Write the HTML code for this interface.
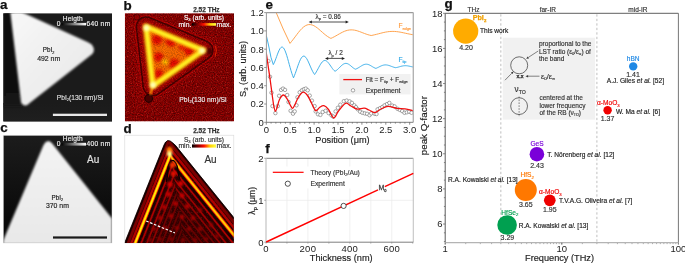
<!DOCTYPE html>
<html><head><meta charset="utf-8"><style>
html,body{margin:0;padding:0;background:#fff;width:685px;height:263px;overflow:hidden}
svg{display:block;will-change:transform;font-family:"Liberation Sans", sans-serif}
</style></head><body>
<svg width="685" height="263" viewBox="0 0 685 263">
<defs>
<filter id="bl05" x="-10%" y="-10%" width="120%" height="120%"><feGaussianBlur stdDeviation="0.5"/></filter>
<filter id="bl1" x="-10%" y="-10%" width="120%" height="120%"><feGaussianBlur stdDeviation="0.9"/></filter>
<filter id="bl15" x="-10%" y="-10%" width="120%" height="120%"><feGaussianBlur stdDeviation="1.25"/></filter>
<filter id="bl2" x="-10%" y="-10%" width="120%" height="120%"><feGaussianBlur stdDeviation="1.6"/></filter>
<filter id="bl6" x="-30%" y="-30%" width="160%" height="160%"><feGaussianBlur stdDeviation="7"/></filter>
<filter id="bl3" x="-20%" y="-20%" width="140%" height="140%"><feGaussianBlur stdDeviation="3"/></filter>
<filter id="noise" x="0" y="0" width="100%" height="100%">
 <feTurbulence type="fractalNoise" baseFrequency="0.9" numOctaves="1" seed="3" result="n"/>
 <feColorMatrix in="n" type="matrix" values="0 0 0 0 0  0 0 0 0 0  0 0 0 0 0  0 0 0 -1.2 0.75" result="a"/>
 <feComposite in="a" in2="SourceGraphic" operator="in"/>
</filter>
<filter id="noise2" x="0" y="0" width="100%" height="100%">
 <feTurbulence type="fractalNoise" baseFrequency="0.8" numOctaves="1" seed="11" result="n"/>
 <feColorMatrix in="n" type="matrix" values="0 0 0 0 0.95  0 0 0 0 0.08  0 0 0 0 0.05  0 0 0 1.4 -0.72" result="a"/>
 <feComposite in="a" in2="SourceGraphic" operator="in"/>
</filter>
<clipPath id="cpa"><rect x="3.2" y="13.2" width="108.8" height="108.3"/></clipPath>
<clipPath id="cpb"><rect x="124.8" y="13.2" width="109.2" height="108.3"/></clipPath>
<clipPath id="cpc"><rect x="3.2" y="135.2" width="108.8" height="107.8"/></clipPath>
<clipPath id="cpd"><rect x="124.8" y="135.2" width="109" height="107.8"/></clipPath>
<clipPath id="cpdt"><polygon points="122.2,249 164,145 165.5,142.3 167.6,140.6 170.2,141 172.8,143 175.6,145.5 240.3,225.5 240,250"/></clipPath>
<clipPath id="cpe"><rect x="266.4" y="12.6" width="146.9" height="109.6"/></clipPath>
<linearGradient id="gbw" x1="0" x2="1" y1="0" y2="0"><stop offset="0" stop-color="#000"/><stop offset="1" stop-color="#fff"/></linearGradient>
<linearGradient id="ghot" x1="0" x2="1" y1="0" y2="0"><stop offset="0" stop-color="#000"/><stop offset="0.3" stop-color="#a00000"/><stop offset="0.5" stop-color="#ff1000"/><stop offset="0.75" stop-color="#ffd000"/><stop offset="1" stop-color="#ffff40"/></linearGradient>
<linearGradient id="gaTri" x1="0" x2="1" y1="0" y2="1"><stop offset="0" stop-color="#f8f8f8"/><stop offset="1" stop-color="#e6e6e6"/></linearGradient>
<linearGradient id="gaBot" x1="0" x2="0" y1="0" y2="1"><stop offset="0" stop-color="#1b1b1b"/><stop offset="0.3" stop-color="#1c1c1c"/><stop offset="1" stop-color="#1f1f1f"/></linearGradient>
<linearGradient id="gaStrip" x1="0" x2="0" y1="0" y2="1"><stop offset="0" stop-color="#070707"/><stop offset="1" stop-color="#131313"/></linearGradient>
<linearGradient id="gcTri" x1="0" x2="0" y1="0" y2="1"><stop offset="0" stop-color="#f4f4f4"/><stop offset="1" stop-color="#e8e8e8"/></linearGradient>
<linearGradient id="gcBg" x1="0" x2="0" y1="0" y2="1"><stop offset="0" stop-color="#1c1c1c"/><stop offset="1" stop-color="#050505"/></linearGradient>
</defs>

<text x="0" y="9" font-size="13.4" text-anchor="start" fill="#111" font-weight="bold" stroke="#111" stroke-width="0.25" >a</text>
<text x="123.6" y="9.7" font-size="13.4" text-anchor="start" fill="#111" font-weight="bold" stroke="#111" stroke-width="0.25" >b</text>
<text x="0.2" y="132.3" font-size="13.4" text-anchor="start" fill="#111" font-weight="bold" stroke="#111" stroke-width="0.25" >c</text>
<text x="123.4" y="132.5" font-size="13.4" text-anchor="start" fill="#111" font-weight="bold" stroke="#111" stroke-width="0.25" >d</text>
<text x="265.6" y="9.1" font-size="13.4" text-anchor="start" fill="#111" font-weight="bold" stroke="#111" stroke-width="0.25" >e</text>
<text x="265.3" y="153" font-size="13.4" text-anchor="start" fill="#111" font-weight="bold" stroke="#111" stroke-width="0.25" >f</text>
<text x="444.4" y="7.8" font-size="13.4" text-anchor="start" fill="#111" font-weight="bold" stroke="#111" stroke-width="0.25" >g</text>
<g clip-path="url(#cpa)">
<rect x="3.2" y="13.2" width="108.8" height="108.3" fill="#1b1b1b"/>
<rect x="3.2" y="103" width="108.8" height="19" fill="url(#gaBot)"/>
<polygon points="3.2,11 13,11 23,106 3.2,106" fill="url(#gaStrip)" filter="url(#bl2)"/>
<polygon points="10.3,12 21.5,12 88,42.3 91.8,44.6 93.8,48.2 93.8,51.6 92.3,54 55,83.3 30,102.8 27,105.2 24,105.4 21.2,103 10.3,12" fill="url(#gaTri)" filter="url(#bl1)"/>
</g>
<text x="72.8" y="20.6" font-size="6.6" text-anchor="middle" fill="#f2f2f2" font-weight="normal" stroke="#f2f2f2" stroke-width="0.16" letter-spacing="0.15">Heigth</text>
<rect x="61.4" y="22.9" width="24.6" height="2.5" fill="url(#gbw)"/>
<text x="58.5" y="26" font-size="6.6" text-anchor="middle" fill="#eee" font-weight="normal" stroke="#eee" stroke-width="0.16" >0</text>
<text x="86.4" y="26" font-size="6.6" text-anchor="start" fill="#eee" font-weight="normal" stroke="#eee" stroke-width="0.16" letter-spacing="0.35">640 nm</text>
<text x="48.6" y="52.3" font-size="6.3" text-anchor="middle" fill="#222" font-weight="normal" stroke="#222" stroke-width="0.16" >PbI<tspan font-size="3.8" dy="1.3">2</tspan></text>
<text x="48.7" y="60.5" font-size="6.9" text-anchor="middle" fill="#222" font-weight="normal" stroke="#222" stroke-width="0.16" >492 nm</text>
<text x="56.8" y="100" font-size="6.65" text-anchor="start" fill="#ddd" font-weight="normal" stroke="#ddd" stroke-width="0.16" >PbI<tspan font-size="4" dy="1.3">2</tspan><tspan dy="-1.3">(130 nm)/Si</tspan></text>
<rect x="52.9" y="113.7" width="54.1" height="2.3" fill="#e8e8e8"/>
<g clip-path="url(#cpc)">
<rect x="3.2" y="135.2" width="108.8" height="107.8" fill="url(#gcBg)"/>
<polygon points="3.2,240.5 43.3,145.5 45.6,142 49,141.1 51.8,143 112,218.5 112,244 3.2,244" fill="url(#gcTri)" filter="url(#bl15)"/>
</g>
<rect x="3.2" y="135.2" width="108.8" height="107.8" fill="none" stroke="#ddd" stroke-width="0.5"/>
<text x="72.8" y="140.8" font-size="6.6" text-anchor="middle" fill="#f2f2f2" font-weight="normal" stroke="#f2f2f2" stroke-width="0.16" letter-spacing="0.15">Heigth</text>
<rect x="61.4" y="142.8" width="24.6" height="2.8" fill="url(#gbw)"/>
<text x="58.5" y="146.2" font-size="6.6" text-anchor="middle" fill="#eee" font-weight="normal" stroke="#eee" stroke-width="0.16" >0</text>
<text x="86.4" y="146.2" font-size="6.6" text-anchor="start" fill="#eee" font-weight="normal" stroke="#eee" stroke-width="0.16" letter-spacing="0.35">400 nm</text>
<text x="87" y="163.2" font-size="10" text-anchor="start" fill="#e0e0e0" font-weight="normal" stroke="#e0e0e0" stroke-width="0.16" >Au</text>
<text x="57.4" y="200" font-size="6.3" text-anchor="middle" fill="#222" font-weight="normal" stroke="#222" stroke-width="0.16" >PbI<tspan font-size="3.8" dy="1.3">2</tspan></text>
<text x="57.4" y="208.2" font-size="6.9" text-anchor="middle" fill="#222" font-weight="normal" stroke="#222" stroke-width="0.16" >370 nm</text>
<rect x="53" y="236.4" width="54" height="2.2" fill="#1a1a1a"/>
<g clip-path="url(#cpb)">
<rect x="124.8" y="13.2" width="109.2" height="108.3" fill="#8e0000"/>
<polygon points="128,10 228,45 140,112" fill="#b80000" opacity="0.55" filter="url(#bl6)"/>
<rect x="124.8" y="13.2" width="109.2" height="108.3" fill="#fff" filter="url(#noise2)"/>
<rect x="124.8" y="13.2" width="109.2" height="108.3" fill="#3a0000" filter="url(#noise)"/>
<mask id="rm11210"><polygon points="146,26.6 203.2,50.2 152.8,86" fill="#fff" stroke="#fff" stroke-width="23.4" stroke-linejoin="round"/><polygon points="146,26.6 203.2,50.2 152.8,86" fill="#000" stroke="#000" stroke-width="21.4" stroke-linejoin="round"/></mask>
<g filter="url(#bl05)"><rect x="120" y="10" width="120" height="115" fill="#d00000" opacity="0.5" mask="url(#rm11210)"/></g>
<mask id="rm9614"><polygon points="146,26.6 203.2,50.2 152.8,86" fill="#fff" stroke="#fff" stroke-width="20.6" stroke-linejoin="round"/><polygon points="146,26.6 203.2,50.2 152.8,86" fill="#000" stroke="#000" stroke-width="17.8" stroke-linejoin="round"/></mask>
<g filter="url(#bl05)"><rect x="120" y="10" width="120" height="115" fill="#300000" opacity="0.8" mask="url(#rm9614)"/></g>
<mask id="rm5226"><polygon points="146,26.6 203.2,50.2 152.8,86" fill="#fff" stroke="#fff" stroke-width="13" stroke-linejoin="round"/><polygon points="146,26.6 203.2,50.2 152.8,86" fill="#000" stroke="#000" stroke-width="7.8" stroke-linejoin="round"/></mask>
<g filter="url(#bl1)"><rect x="120" y="10" width="120" height="115" fill="#b00000" opacity="0.55" mask="url(#rm5226)"/></g>
<circle cx="209" cy="51" r="3.5" fill="#400000" filter="url(#bl1)" opacity="0.8"/>
<circle cx="136.8" cy="17" r="3" fill="#900000" stroke="#400000" stroke-width="1" opacity="0.7"/>
<circle cx="148.7" cy="98.5" r="3.8" fill="#4a0000" stroke="#250000" stroke-width="1.2"/>
<path d="M152.5,88 L150,94.5" stroke="#ff9000" stroke-width="2.5" filter="url(#bl1)"/>
<path d="M215.5,46 Q217.5,51 215,56.5" fill="none" stroke="#e02000" stroke-width="1" filter="url(#bl05)"/>
<polygon points="146,26.6 203.2,50.2 152.8,86" fill="#fa6a00"/>
<g filter="url(#bl2)"><circle cx="157.1" cy="39.5" r="5.2" fill="#e81000"/><circle cx="170.8" cy="41.5" r="5.2" fill="#e81000"/><circle cx="189" cy="51" r="4.8" fill="#e81000"/><circle cx="158.6" cy="57" r="4.8" fill="#e81000"/><circle cx="158.6" cy="74" r="4.8" fill="#e81000"/><circle cx="174.4" cy="64" r="5.4" fill="#e81000"/><circle cx="182" cy="47" r="3.5" fill="#f02000"/><circle cx="166" cy="50" r="3" fill="#ff7000"/><circle cx="180" cy="55" r="2.5" fill="#ff6000"/><circle cx="165" cy="62" r="2.5" fill="#ffd000"/></g>
<polygon points="146,26.6 203.2,50.2 152.8,86" fill="#802000" filter="url(#noise)" opacity="0.5"/>
<polygon points="146,26.6 203.2,50.2 152.8,86" fill="none" stroke="#ffa000" stroke-width="7.5" stroke-linejoin="round" filter="url(#bl1)" opacity="0.6"/>
<polygon points="146,26.6 203.2,50.2 152.8,86" fill="none" stroke="#fff020" stroke-width="4.4" stroke-linejoin="round" filter="url(#bl1)"/>
<g filter="url(#bl2)"><circle cx="146.5" cy="28" r="3" fill="#ffffc0"/><circle cx="202" cy="50.8" r="3" fill="#ffffc0"/><circle cx="153" cy="85" r="3" fill="#ffffc0"/></g>
</g>
<text x="206.4" y="11.8" font-size="6.5" text-anchor="middle" fill="#333" font-weight="bold" stroke="#333" stroke-width="0.25" >2.52 THz</text>
<text x="204" y="19.9" font-size="6.6" text-anchor="middle" fill="#fff" font-weight="normal" stroke="#fff" stroke-width="0.16" >S<tspan font-size="4.2" dy="1.3">3</tspan><tspan dy="-1.3"> (arb. units)</tspan></text>
<text x="191.3" y="26.6" font-size="6.8" text-anchor="end" fill="#f4f4f4" font-weight="normal" stroke="#f4f4f4" stroke-width="0.16" >min.</text>
<rect x="191.9" y="23.1" width="24.1" height="2.6" fill="url(#ghot)"/>
<text x="216.4" y="26.6" font-size="6.9" text-anchor="start" fill="#f4f4f4" font-weight="normal" stroke="#f4f4f4" stroke-width="0.16" >max.</text>
<text x="179.3" y="101.9" font-size="6.75" text-anchor="start" fill="#e8e8e8" font-weight="normal" stroke="#e8e8e8" stroke-width="0.16" >PbI<tspan font-size="4" dy="1.3">2</tspan><tspan dy="-1.3">(130 nm)/Si</tspan></text>
<rect x="124.8" y="135.2" width="109" height="107.8" fill="#fff" stroke="#d8d8d8" stroke-width="0.6"/>
<g clip-path="url(#cpd)">
<polygon points="122.2,249 164,145 165.5,142.3 167.6,140.6 170.2,141 172.8,143 175.6,145.5 240.3,225.5 240,250" fill="#380000"/>
<polygon points="122.2,249 164,145 165.5,142.3 167.6,140.6 170.2,141 172.8,143 175.6,145.5 240.3,225.5 240,250" fill="#000" filter="url(#noise)" opacity="0.6"/>
<polygon points="122.2,249 164,145 165.5,142.3 167.6,140.6 170.2,141 172.8,143 175.6,145.5 240.3,225.5 240,250" fill="#fff" filter="url(#noise2)" opacity="0.45"/>
<clipPath id="cpdl"><polygon points="167.8,135.4 186.61,260 100,260 100,120 167.8,120"/></clipPath>
<clipPath id="cpdr"><polygon points="167.8,135.4 186.61,260 260,260 260,120 167.8,120"/></clipPath>
<g clip-path="url(#cpdt)"><g filter="url(#bl05)"><g clip-path="url(#cpdl)"><line x1="174.49" y1="120.22" x2="118.68" y2="260.22" stroke="#150000" stroke-width="1.2" opacity="1"/><line x1="176.72" y1="121.11" x2="120.91" y2="261.11" stroke="#7a0000" stroke-width="2.6" opacity="1"/><line x1="179.5" y1="122.22" x2="123.7" y2="262.22" stroke="#b00000" stroke-width="2.2" opacity="1"/><line x1="182.85" y1="123.55" x2="127.04" y2="263.55" stroke="#ff4000" stroke-width="3.6" opacity="1"/><line x1="182.85" y1="123.55" x2="127.04" y2="263.55" stroke="#fff000" stroke-width="1.9" opacity="1"/><line x1="185.82" y1="124.74" x2="130.02" y2="264.74" stroke="#1a0000" stroke-width="1.6" opacity="1"/><line x1="188.05" y1="125.63" x2="132.25" y2="265.63" stroke="#b00000" stroke-width="1.6" opacity="1"/><line x1="190.28" y1="126.52" x2="134.48" y2="266.52" stroke="#250000" stroke-width="1.2" opacity="1"/><line x1="192.97" y1="127.59" x2="137.17" y2="267.59" stroke="#a00000" stroke-width="1.6" opacity="1"/><line x1="197.25" y1="129.29" x2="141.44" y2="269.29" stroke="#900000" stroke-width="1.6" opacity="1"/><line x1="201.52" y1="131" x2="145.72" y2="271" stroke="#700000" stroke-width="1.6" opacity="1"/><line x1="205.79" y1="132.7" x2="149.99" y2="272.7" stroke="#700000" stroke-width="1.6" opacity="1"/><line x1="210.07" y1="134.4" x2="154.26" y2="274.4" stroke="#680000" stroke-width="1.6" opacity="1"/><line x1="214.34" y1="136.11" x2="158.53" y2="276.11" stroke="#680000" stroke-width="1.6" opacity="1"/><line x1="218.61" y1="137.81" x2="162.81" y2="277.81" stroke="#600000" stroke-width="1.6" opacity="1"/><line x1="222.88" y1="139.51" x2="167.08" y2="279.51" stroke="#600000" stroke-width="1.6" opacity="1"/><line x1="227.16" y1="141.22" x2="171.35" y2="281.22" stroke="#600000" stroke-width="1.6" opacity="1"/></g><g clip-path="url(#cpdr)"><line x1="154.83" y1="120.38" x2="267.95" y2="260.38" stroke="#150000" stroke-width="1.2" opacity="1"/><line x1="152.81" y1="122.01" x2="265.93" y2="262.01" stroke="#7a0000" stroke-width="2.8" opacity="1"/><line x1="150.17" y1="124.15" x2="263.29" y2="264.15" stroke="#b00000" stroke-width="2.4" opacity="1"/><line x1="146.59" y1="127.04" x2="259.71" y2="267.04" stroke="#ff3000" stroke-width="3.6" opacity="1"/><line x1="146.59" y1="127.04" x2="259.71" y2="267.04" stroke="#ffd000" stroke-width="1.9" opacity="1"/><line x1="143.94" y1="129.18" x2="257.06" y2="269.18" stroke="#1a0000" stroke-width="1.6" opacity="1"/><line x1="142.08" y1="130.68" x2="255.2" y2="270.68" stroke="#b00000" stroke-width="1.6" opacity="1"/><line x1="140.13" y1="132.26" x2="253.25" y2="272.26" stroke="#250000" stroke-width="1.2" opacity="1"/><line x1="137.8" y1="134.14" x2="250.92" y2="274.14" stroke="#a00000" stroke-width="1.6" opacity="1"/><line x1="134.22" y1="137.03" x2="247.34" y2="277.03" stroke="#900000" stroke-width="1.6" opacity="1"/><line x1="130.64" y1="139.92" x2="243.76" y2="279.92" stroke="#700000" stroke-width="1.6" opacity="1"/><line x1="127.06" y1="142.81" x2="240.18" y2="282.81" stroke="#700000" stroke-width="1.6" opacity="1"/><line x1="123.49" y1="145.7" x2="236.61" y2="285.7" stroke="#680000" stroke-width="1.6" opacity="1"/><line x1="119.91" y1="148.6" x2="233.03" y2="288.6" stroke="#680000" stroke-width="1.6" opacity="1"/><line x1="116.33" y1="151.49" x2="229.45" y2="291.49" stroke="#600000" stroke-width="1.6" opacity="1"/><line x1="112.75" y1="154.38" x2="225.87" y2="294.38" stroke="#600000" stroke-width="1.6" opacity="1"/><line x1="109.18" y1="157.27" x2="222.3" y2="297.27" stroke="#600000" stroke-width="1.6" opacity="1"/></g></g><path d="M166.5,182 L168.5,166 Q172.5,155 177,166 L180,182" fill="none" stroke="#100000" stroke-width="1.6" filter="url(#bl05)"/><g filter="url(#bl1)"><circle cx="172.6" cy="165" r="3.0" fill="#f03000"/><circle cx="173.4" cy="173.7" r="2.9" fill="#e01000"/><circle cx="170" cy="184.4" r="2.8" fill="#d00000"/><circle cx="180.6" cy="183.6" r="2.8" fill="#d00000"/><circle cx="168.6" cy="194.2" r="2.7" fill="#c00000"/><circle cx="182" cy="195.6" r="2.7" fill="#c00000"/><circle cx="175.3" cy="203.5" r="2.5" fill="#b00000"/><circle cx="187.3" cy="206.2" r="2.5" fill="#b00000"/><circle cx="164" cy="207" r="2.5" fill="#b00000"/><circle cx="160" cy="218" r="2.4" fill="#a00000"/><circle cx="171" cy="216" r="2.4" fill="#a00000"/><circle cx="182" cy="217" r="2.4" fill="#a00000"/><circle cx="193" cy="218" r="2.4" fill="#a00000"/><circle cx="200" cy="210" r="2.3" fill="#a00000"/><circle cx="154" cy="229" r="2.3" fill="#900000"/><circle cx="165" cy="228" r="2.3" fill="#900000"/><circle cx="177" cy="228" r="2.3" fill="#900000"/><circle cx="189" cy="229" r="2.3" fill="#900000"/><circle cx="200" cy="229" r="2.3" fill="#900000"/><circle cx="211" cy="225" r="2.3" fill="#900000"/><circle cx="150" cy="240" r="2.3" fill="#800000"/><circle cx="160" cy="239" r="2.3" fill="#800000"/><circle cx="171" cy="239" r="2.3" fill="#800000"/><circle cx="183" cy="240" r="2.3" fill="#800000"/><circle cx="195" cy="240" r="2.3" fill="#800000"/><circle cx="206" cy="239" r="2.3" fill="#800000"/><circle cx="217" cy="236" r="2.3" fill="#800000"/><circle cx="169.5" cy="150" r="3" fill="#ff8000"/><circle cx="169.5" cy="154" r="2.6" fill="#ffff90"/></g></g>
<polygon points="122.2,249 164,145 165.5,142.3 167.6,140.6 170.2,141 172.8,143 175.6,145.5 240.3,225.5 240,250" fill="none" stroke="#100000" stroke-width="0.8"/>
</g>
<line x1="146.2" y1="221" x2="174.8" y2="232.9" stroke="#fff" stroke-width="1.2" stroke-dasharray="2.6,1.6"/>
<text x="206.4" y="133.2" font-size="6.5" text-anchor="middle" fill="#333" font-weight="bold" stroke="#333" stroke-width="0.25" >2.52 THz</text>
<text x="204" y="141.6" font-size="6.6" text-anchor="middle" fill="#333" font-weight="normal" stroke="#333" stroke-width="0.16" >S<tspan font-size="4.2" dy="1.3">3</tspan><tspan dy="-1.3"> (arb. units)</tspan></text>
<text x="191.3" y="147.9" font-size="6.8" text-anchor="end" fill="#333" font-weight="normal" stroke="#333" stroke-width="0.16" >min.</text>
<rect x="192" y="144.4" width="24" height="3.2" fill="url(#ghot)"/>
<text x="216.6" y="147.9" font-size="6.9" text-anchor="start" fill="#333" font-weight="normal" stroke="#333" stroke-width="0.16" >max.</text>
<text x="204.4" y="163.2" font-size="10" text-anchor="start" fill="#333" font-weight="normal" stroke="#333" stroke-width="0.16" >Au</text>
<rect x="339.4" y="74" width="71.2" height="20.4" fill="#f1f1f1"/>
<g clip-path="url(#cpe)" fill="none" stroke-linejoin="round">
<path d="M275.3,10 L276.2,12.6 L283.2,29 L290,43.4 L291.7,41.29 L293.41,39.12 L295.11,36.85 L296.82,34.57 L298.52,32.35 L300.23,30.29 L301.93,28.47 L303.63,26.94 L305.34,25.77 L307.04,24.98 L308.75,24.59 L310.45,24.6 L312.15,24.97 L313.86,25.69 L315.56,26.69 L317.27,27.91 L318.97,29.31 L320.67,30.8 L322.38,32.32 L324.08,33.8 L325.79,35.2 L327.49,36.45 L329.2,37.53 L330.9,38.4 L332.58,37.61 L334.26,36.76 L335.94,35.83 L337.62,34.86 L339.3,33.9 L340.97,32.97 L342.65,32.11 L344.33,31.35 L346.01,30.74 L347.69,30.27 L349.37,29.98 L351.05,29.86 L352.73,29.92 L354.41,30.13 L356.09,30.49 L357.77,30.97 L359.45,31.55 L361.12,32.18 L362.8,32.83 L364.48,33.48 L366.16,34.1 L367.84,34.66 L369.52,35.13 L371.2,35.5 L373,35.15 L374.81,34.74 L376.61,34.3 L378.42,33.83 L380.22,33.36 L382.02,32.9 L383.83,32.47 L385.63,32.1 L387.44,31.79 L389.24,31.57 L391.05,31.44 L392.85,31.4 L394.65,31.45 L396.46,31.6 L398.26,31.83 L400.07,32.12 L401.87,32.46 L403.68,32.84 L405.48,33.24 L407.28,33.64 L409.09,34.01 L410.89,34.36 L412.7,34.66 L414.5,34.9" stroke="#ff9a3c" stroke-width="0.9"/>
<path d="M266.4,35.8 L268.5,45 L271,57.5 L273.3,64.6 L274.14,62.96 L274.98,61 L275.82,58.79 L276.67,56.47 L277.51,54.16 L278.35,52 L279.19,50.12 L280.03,48.62 L280.88,47.59 L281.72,47.09 L282.56,47.17 L283.4,47.83 L284.24,49.05 L285.08,50.8 L285.93,53 L286.77,55.58 L287.61,58.43 L288.45,61.46 L289.29,64.55 L290.13,67.6 L290.98,70.53 L291.82,73.25 L292.66,75.68 L293.5,77.8 L294.38,75.72 L295.26,73.44 L296.14,70.97 L297.02,68.4 L297.9,65.84 L298.77,63.41 L299.65,61.2 L300.53,59.31 L301.41,57.81 L302.29,56.75 L303.17,56.19 L304.05,56.11 L304.93,56.52 L305.81,57.38 L306.69,58.63 L307.57,60.21 L308.45,62.04 L309.33,64.02 L310.2,66.07 L311.08,68.09 L311.96,70.01 L312.84,71.75 L313.72,73.26 L314.6,74.5 L315.45,73.29 L316.3,71.92 L317.15,70.42 L318,68.84 L318.85,67.24 L319.7,65.68 L320.55,64.24 L321.4,62.97 L322.25,61.92 L323.1,61.14 L323.95,60.65 L324.8,60.47 L325.65,60.6 L326.5,61.03 L327.35,61.71 L328.2,62.62 L329.05,63.7 L329.9,64.89 L330.75,66.13 L331.6,67.37 L332.45,68.56 L333.3,69.63 L334.15,70.55 L335,71.3 L335.85,70.79 L336.7,70.16 L337.55,69.44 L338.4,68.64 L339.25,67.8 L340.1,66.94 L340.95,66.11 L341.8,65.33 L342.65,64.65 L343.5,64.09 L344.35,63.68 L345.2,63.44 L346.05,63.38 L346.9,63.5 L347.75,63.78 L348.6,64.22 L349.45,64.79 L350.3,65.44 L351.15,66.15 L352,66.87 L352.85,67.57 L353.7,68.21 L354.55,68.76 L355.4,69.2 L356.25,68.89 L357.11,68.5 L357.96,68.04 L358.82,67.53 L359.67,67 L360.52,66.45 L361.38,65.91 L362.23,65.42 L363.09,64.98 L363.94,64.62 L364.8,64.37 L365.65,64.22 L366.5,64.2 L367.36,64.3 L368.21,64.51 L369.07,64.83 L369.92,65.23 L370.77,65.7 L371.63,66.2 L372.48,66.72 L373.34,67.22 L374.19,67.68 L375.05,68.08 L375.9,68.4 L376.72,68.05 L377.55,67.67 L378.38,67.27 L379.2,66.85 L380.02,66.44 L380.85,66.05 L381.67,65.7 L382.5,65.4 L383.32,65.16 L384.15,65 L384.97,64.91 L385.8,64.9 L386.62,64.96 L387.45,65.1 L388.27,65.29 L389.1,65.53 L389.93,65.81 L390.75,66.12 L391.57,66.43 L392.4,66.73 L393.22,67.02 L394.05,67.29 L394.88,67.52 L395.7,67.7 L396.48,67.54 L397.27,67.36 L398.05,67.15 L398.83,66.94 L399.62,66.71 L400.4,66.49 L401.18,66.28 L401.97,66.1 L402.75,65.94 L403.53,65.82 L404.32,65.74 L405.1,65.7 L405.88,65.7 L406.67,65.75 L407.45,65.84 L408.23,65.97 L409.02,66.12 L409.8,66.28 L410.58,66.46 L411.37,66.64 L412.15,66.81 L412.93,66.96 L413.72,67.09 L414.5,67.2" stroke="#2ea8e6" stroke-width="0.9"/>
<circle cx="268.4" cy="61.1" r="1.75" fill="#fff" stroke="#555" stroke-width="0.5"/><circle cx="270" cy="76.8" r="1.75" fill="#fff" stroke="#555" stroke-width="0.5"/><circle cx="271.5" cy="92.7" r="1.75" fill="#fff" stroke="#555" stroke-width="0.5"/><circle cx="272.5" cy="106.1" r="1.75" fill="#fff" stroke="#555" stroke-width="0.5"/><circle cx="275.4" cy="113.1" r="1.75" fill="#fff" stroke="#555" stroke-width="0.5"/><circle cx="277.8" cy="106.1" r="1.75" fill="#fff" stroke="#555" stroke-width="0.5"/><circle cx="279.1" cy="95.8" r="1.75" fill="#fff" stroke="#555" stroke-width="0.5"/><circle cx="281.1" cy="89.9" r="1.75" fill="#fff" stroke="#555" stroke-width="0.5"/><circle cx="283" cy="88.6" r="1.75" fill="#fff" stroke="#555" stroke-width="0.5"/><circle cx="285" cy="89.9" r="1.75" fill="#fff" stroke="#555" stroke-width="0.5"/><circle cx="287.2" cy="95" r="1.75" fill="#fff" stroke="#555" stroke-width="0.5"/><circle cx="288.5" cy="102" r="1.75" fill="#fff" stroke="#555" stroke-width="0.5"/><circle cx="290.6" cy="110.8" r="1.75" fill="#fff" stroke="#555" stroke-width="0.5"/><circle cx="293" cy="113.7" r="1.75" fill="#fff" stroke="#555" stroke-width="0.5"/><circle cx="294.7" cy="111.4" r="1.75" fill="#fff" stroke="#555" stroke-width="0.5"/><circle cx="296.5" cy="105.3" r="1.75" fill="#fff" stroke="#555" stroke-width="0.5"/><circle cx="297.5" cy="97.3" r="1.75" fill="#fff" stroke="#555" stroke-width="0.5"/><circle cx="299.7" cy="92.3" r="1.75" fill="#fff" stroke="#555" stroke-width="0.5"/><circle cx="301.9" cy="90.3" r="1.75" fill="#fff" stroke="#555" stroke-width="0.5"/><circle cx="303.9" cy="89.2" r="1.75" fill="#fff" stroke="#555" stroke-width="0.5"/><circle cx="305.8" cy="88.6" r="1.75" fill="#fff" stroke="#555" stroke-width="0.5"/><circle cx="307.7" cy="90.3" r="1.75" fill="#fff" stroke="#555" stroke-width="0.5"/><circle cx="309.7" cy="95.6" r="1.75" fill="#fff" stroke="#555" stroke-width="0.5"/><circle cx="311.9" cy="100.6" r="1.75" fill="#fff" stroke="#555" stroke-width="0.5"/><circle cx="314.6" cy="106.1" r="1.75" fill="#fff" stroke="#555" stroke-width="0.5"/><circle cx="315.7" cy="111.4" r="1.75" fill="#fff" stroke="#555" stroke-width="0.5"/><circle cx="318" cy="114.3" r="1.75" fill="#fff" stroke="#555" stroke-width="0.5"/><circle cx="320.4" cy="114.9" r="1.75" fill="#fff" stroke="#555" stroke-width="0.5"/><circle cx="322.7" cy="112" r="1.75" fill="#fff" stroke="#555" stroke-width="0.5"/><circle cx="325.6" cy="110.8" r="1.75" fill="#fff" stroke="#555" stroke-width="0.5"/><circle cx="328.6" cy="113.1" r="1.75" fill="#fff" stroke="#555" stroke-width="0.5"/><circle cx="331.5" cy="115.4" r="1.75" fill="#fff" stroke="#555" stroke-width="0.5"/><circle cx="333.2" cy="116.6" r="1.75" fill="#fff" stroke="#555" stroke-width="0.5"/><circle cx="335.6" cy="111.4" r="1.75" fill="#fff" stroke="#555" stroke-width="0.5"/><circle cx="337.9" cy="107.8" r="1.75" fill="#fff" stroke="#555" stroke-width="0.5"/><circle cx="340.3" cy="104.7" r="1.75" fill="#fff" stroke="#555" stroke-width="0.5"/><circle cx="343.8" cy="101.2" r="1.75" fill="#fff" stroke="#555" stroke-width="0.5"/><circle cx="346.7" cy="100.6" r="1.75" fill="#fff" stroke="#555" stroke-width="0.5"/><circle cx="349.6" cy="101.4" r="1.75" fill="#fff" stroke="#555" stroke-width="0.5"/><circle cx="351.9" cy="102.9" r="1.75" fill="#fff" stroke="#555" stroke-width="0.5"/><circle cx="354.3" cy="105.3" r="1.75" fill="#fff" stroke="#555" stroke-width="0.5"/><circle cx="356" cy="107.2" r="1.75" fill="#fff" stroke="#555" stroke-width="0.5"/><circle cx="357.8" cy="109.3" r="1.75" fill="#fff" stroke="#555" stroke-width="0.5"/><circle cx="360.1" cy="111.7" r="1.75" fill="#fff" stroke="#555" stroke-width="0.5"/><circle cx="362.4" cy="112.8" r="1.75" fill="#fff" stroke="#555" stroke-width="0.5"/><circle cx="364.8" cy="113.4" r="1.75" fill="#fff" stroke="#555" stroke-width="0.5"/><circle cx="367.1" cy="113.8" r="1.75" fill="#fff" stroke="#555" stroke-width="0.5"/><circle cx="369.5" cy="115.2" r="1.75" fill="#fff" stroke="#555" stroke-width="0.5"/><circle cx="371.2" cy="113.4" r="1.75" fill="#fff" stroke="#555" stroke-width="0.5"/><circle cx="374.7" cy="113.8" r="1.75" fill="#fff" stroke="#555" stroke-width="0.5"/><circle cx="376.5" cy="114" r="1.75" fill="#fff" stroke="#555" stroke-width="0.5"/><circle cx="377.6" cy="109.3" r="1.75" fill="#fff" stroke="#555" stroke-width="0.5"/><circle cx="380" cy="108.2" r="1.75" fill="#fff" stroke="#555" stroke-width="0.5"/><circle cx="382.3" cy="107" r="1.75" fill="#fff" stroke="#555" stroke-width="0.5"/><circle cx="384.6" cy="105.3" r="1.75" fill="#fff" stroke="#555" stroke-width="0.5"/><circle cx="387" cy="104.1" r="1.75" fill="#fff" stroke="#555" stroke-width="0.5"/><circle cx="389.3" cy="102.9" r="1.75" fill="#fff" stroke="#555" stroke-width="0.5"/><circle cx="392.2" cy="105.6" r="1.75" fill="#fff" stroke="#555" stroke-width="0.5"/><circle cx="394.6" cy="106.4" r="1.75" fill="#fff" stroke="#555" stroke-width="0.5"/><circle cx="397.5" cy="108.8" r="1.75" fill="#fff" stroke="#555" stroke-width="0.5"/><circle cx="399.8" cy="109.9" r="1.75" fill="#fff" stroke="#555" stroke-width="0.5"/><circle cx="402.2" cy="111.1" r="1.75" fill="#fff" stroke="#555" stroke-width="0.5"/><circle cx="404.5" cy="112.8" r="1.75" fill="#fff" stroke="#555" stroke-width="0.5"/><circle cx="406.8" cy="112.3" r="1.75" fill="#fff" stroke="#555" stroke-width="0.5"/><circle cx="409.2" cy="111.7" r="1.75" fill="#fff" stroke="#555" stroke-width="0.5"/><circle cx="411.5" cy="112.8" r="1.75" fill="#fff" stroke="#555" stroke-width="0.5"/>
<path d="M266.2,52.5 C266.55,54.92 267.63,62.42 268.3,67 C268.97,71.58 269.55,75.33 270.2,80 C270.85,84.67 271.6,90.67 272.2,95 C272.8,99.33 273.27,103.27 273.8,106 C274.33,108.73 274.83,111.23 275.4,111.4 C275.97,111.57 276.52,108.98 277.2,107 C277.88,105.02 278.45,101.5 279.5,99.5 C280.55,97.5 282.17,95 283.5,95 C284.83,95 286.33,97.75 287.5,99.5 C288.67,101.25 289.65,104.02 290.5,105.5 C291.35,106.98 291.85,108.57 292.6,108.4 C293.35,108.23 294.02,106.4 295,104.5 C295.98,102.6 297.13,99.07 298.5,97 C299.87,94.93 301.7,92.35 303.2,92.1 C304.7,91.85 306.12,93.68 307.5,95.5 C308.88,97.32 310.13,100.45 311.5,103 C312.87,105.55 314.37,110.05 315.7,110.8 C317.03,111.55 318.13,108.35 319.5,107.5 C320.87,106.65 322.4,105.37 323.9,105.7 C325.4,106.03 326.85,107.45 328.5,109.5 C330.15,111.55 332.13,117.75 333.8,118 C335.47,118.25 336.55,113.45 338.5,111 C340.45,108.55 343.42,104.13 345.5,103.3 C347.58,102.47 349.05,105.03 351,106 C352.95,106.97 355,108.73 357.2,109.1 C359.4,109.47 362.23,108.05 364.2,108.2 C366.17,108.35 367.25,109.27 369,110 C370.75,110.73 372.7,112.77 374.7,112.6 C376.7,112.43 378.77,110.03 381,109 C383.23,107.97 385.45,106.5 388.1,106.4 C390.75,106.3 394.08,108 396.9,108.4 C399.72,108.8 402.23,108.42 405,108.8 C407.77,109.18 412.08,110.38 413.5,110.7" stroke="#f01010" stroke-width="1.3"/>
</g>
<line x1="266.4" y1="12.6" x2="413.3" y2="12.6" stroke="#9a9a9a" stroke-width="1.1"/>
<line x1="413.3" y1="12.6" x2="413.3" y2="122.3" stroke="#b2b2b2" stroke-width="1.4"/>
<line x1="266.4" y1="12.6" x2="266.4" y2="122.3" stroke="#999" stroke-width="1"/>
<line x1="266.4" y1="122.3" x2="413.3" y2="122.3" stroke="#6e6e6e" stroke-width="0.9"/>
<text x="263.7" y="125.65" font-size="9.5" text-anchor="end" fill="#222" font-weight="normal" >0</text>
<text x="263.7" y="107.37" font-size="9.5" text-anchor="end" fill="#222" font-weight="normal" >0.2</text>
<text x="263.7" y="89.09" font-size="9.5" text-anchor="end" fill="#222" font-weight="normal" >0.4</text>
<text x="263.7" y="70.81" font-size="9.5" text-anchor="end" fill="#222" font-weight="normal" >0.6</text>
<text x="263.7" y="52.53" font-size="9.5" text-anchor="end" fill="#222" font-weight="normal" >0.8</text>
<text x="263.7" y="34.25" font-size="9.5" text-anchor="end" fill="#222" font-weight="normal" >1.0</text>
<text x="263.7" y="15.97" font-size="9.5" text-anchor="end" fill="#222" font-weight="normal" >1.2</text>
<text x="266.3" y="132.9" font-size="9.5" text-anchor="middle" fill="#222" font-weight="normal" >0</text>
<text x="290.2" y="132.9" font-size="9.5" text-anchor="middle" fill="#222" font-weight="normal" >0.5</text>
<text x="314.1" y="132.9" font-size="9.5" text-anchor="middle" fill="#222" font-weight="normal" >1.0</text>
<text x="338" y="132.9" font-size="9.5" text-anchor="middle" fill="#222" font-weight="normal" >1.5</text>
<text x="361.9" y="132.9" font-size="9.5" text-anchor="middle" fill="#222" font-weight="normal" >2.0</text>
<text x="385.8" y="132.9" font-size="9.5" text-anchor="middle" fill="#222" font-weight="normal" >2.5</text>
<text x="409.7" y="132.9" font-size="9.5" text-anchor="middle" fill="#222" font-weight="normal" >3.0</text>
<line x1="264.2" y1="122.3" x2="266.4" y2="122.3" stroke="#7a7a7a" stroke-width="0.8"/><line x1="264.2" y1="104.02" x2="266.4" y2="104.02" stroke="#7a7a7a" stroke-width="0.8"/><line x1="264.2" y1="85.74" x2="266.4" y2="85.74" stroke="#7a7a7a" stroke-width="0.8"/><line x1="264.2" y1="67.46" x2="266.4" y2="67.46" stroke="#7a7a7a" stroke-width="0.8"/><line x1="264.2" y1="49.18" x2="266.4" y2="49.18" stroke="#7a7a7a" stroke-width="0.8"/><line x1="264.2" y1="30.9" x2="266.4" y2="30.9" stroke="#7a7a7a" stroke-width="0.8"/><line x1="264.2" y1="12.62" x2="266.4" y2="12.62" stroke="#7a7a7a" stroke-width="0.8"/><line x1="266.3" y1="122.3" x2="266.3" y2="124.7" stroke="#555" stroke-width="0.7"/><line x1="271.08" y1="122.3" x2="271.08" y2="123.6" stroke="#555" stroke-width="0.7"/><line x1="275.86" y1="122.3" x2="275.86" y2="123.6" stroke="#555" stroke-width="0.7"/><line x1="280.64" y1="122.3" x2="280.64" y2="123.6" stroke="#555" stroke-width="0.7"/><line x1="285.42" y1="122.3" x2="285.42" y2="123.6" stroke="#555" stroke-width="0.7"/><line x1="290.2" y1="122.3" x2="290.2" y2="124.7" stroke="#555" stroke-width="0.7"/><line x1="294.98" y1="122.3" x2="294.98" y2="123.6" stroke="#555" stroke-width="0.7"/><line x1="299.76" y1="122.3" x2="299.76" y2="123.6" stroke="#555" stroke-width="0.7"/><line x1="304.54" y1="122.3" x2="304.54" y2="123.6" stroke="#555" stroke-width="0.7"/><line x1="309.32" y1="122.3" x2="309.32" y2="123.6" stroke="#555" stroke-width="0.7"/><line x1="314.1" y1="122.3" x2="314.1" y2="124.7" stroke="#555" stroke-width="0.7"/><line x1="318.88" y1="122.3" x2="318.88" y2="123.6" stroke="#555" stroke-width="0.7"/><line x1="323.66" y1="122.3" x2="323.66" y2="123.6" stroke="#555" stroke-width="0.7"/><line x1="328.44" y1="122.3" x2="328.44" y2="123.6" stroke="#555" stroke-width="0.7"/><line x1="333.22" y1="122.3" x2="333.22" y2="123.6" stroke="#555" stroke-width="0.7"/><line x1="338" y1="122.3" x2="338" y2="124.7" stroke="#555" stroke-width="0.7"/><line x1="342.78" y1="122.3" x2="342.78" y2="123.6" stroke="#555" stroke-width="0.7"/><line x1="347.56" y1="122.3" x2="347.56" y2="123.6" stroke="#555" stroke-width="0.7"/><line x1="352.34" y1="122.3" x2="352.34" y2="123.6" stroke="#555" stroke-width="0.7"/><line x1="357.12" y1="122.3" x2="357.12" y2="123.6" stroke="#555" stroke-width="0.7"/><line x1="361.9" y1="122.3" x2="361.9" y2="124.7" stroke="#555" stroke-width="0.7"/><line x1="366.68" y1="122.3" x2="366.68" y2="123.6" stroke="#555" stroke-width="0.7"/><line x1="371.46" y1="122.3" x2="371.46" y2="123.6" stroke="#555" stroke-width="0.7"/><line x1="376.24" y1="122.3" x2="376.24" y2="123.6" stroke="#555" stroke-width="0.7"/><line x1="381.02" y1="122.3" x2="381.02" y2="123.6" stroke="#555" stroke-width="0.7"/><line x1="385.8" y1="122.3" x2="385.8" y2="124.7" stroke="#555" stroke-width="0.7"/><line x1="390.58" y1="122.3" x2="390.58" y2="123.6" stroke="#555" stroke-width="0.7"/><line x1="395.36" y1="122.3" x2="395.36" y2="123.6" stroke="#555" stroke-width="0.7"/><line x1="400.14" y1="122.3" x2="400.14" y2="123.6" stroke="#555" stroke-width="0.7"/><line x1="404.92" y1="122.3" x2="404.92" y2="123.6" stroke="#555" stroke-width="0.7"/><line x1="409.7" y1="122.3" x2="409.7" y2="124.7" stroke="#555" stroke-width="0.7"/>
<text x="342.5" y="142.6" font-size="9.2" text-anchor="middle" fill="#222" font-weight="normal" stroke="#222" stroke-width="0.16" >Position (μm)</text>
<text x="0" y="0" font-size="9.2" text-anchor="middle" fill="#222" font-weight="normal" stroke="#222" stroke-width="0.16" transform="translate(245.6,69) rotate(-90)">S<tspan font-size="6" dy="1.9">3</tspan><tspan dy="-1.9"> (arb. units)</tspan></text>
<line x1="311.2" y1="22" x2="346.3" y2="22" stroke="#222" stroke-width="0.8"/><polygon points="308.7,22 311.9,20.5 311.9,23.5" fill="#222"/><polygon points="348.8,22 345.6,20.5 345.6,23.5" fill="#222"/>
<line x1="327.5" y1="58.4" x2="342.5" y2="58.4" stroke="#222" stroke-width="0.8"/><polygon points="325,58.4 328.2,56.9 328.2,59.9" fill="#222"/><polygon points="345,58.4 341.8,56.9 341.8,59.9" fill="#222"/>
<text x="315.6" y="18.6" font-size="6.4" text-anchor="start" fill="#333" font-weight="normal" stroke="#333" stroke-width="0.16" >λ<tspan font-size="4" dy="1.5">p</tspan><tspan dy="-1.5"> = 0.86</tspan></text>
<text x="328.4" y="55" font-size="6.4" text-anchor="start" fill="#333" font-weight="normal" stroke="#333" stroke-width="0.16" >λ<tspan font-size="4" dy="1.5">p</tspan><tspan dy="-1.5"> / 2</tspan></text>
<text x="398.4" y="28.1" font-size="6.6" text-anchor="start" fill="#ff9a3c" font-weight="normal" stroke="#ff9a3c" stroke-width="0.16" >F<tspan font-size="3.8" dy="1.4">edge</tspan></text>
<text x="398.4" y="62" font-size="6.6" text-anchor="start" fill="#2ea8e6" font-weight="normal" stroke="#2ea8e6" stroke-width="0.16" >F<tspan font-size="3.8" dy="1.4">tip</tspan></text>
<line x1="343.3" y1="79.6" x2="362" y2="79.6" stroke="#f01010" stroke-width="1.3"/>
<text x="365.7" y="81.9" font-size="6.4" text-anchor="start" fill="#333" font-weight="normal" stroke="#333" stroke-width="0.16" >Fit = F<tspan font-size="3.8" dy="1.4">tip</tspan><tspan dy="-1.4"> + F</tspan><tspan font-size="3.8" dy="1.4">edge</tspan></text>
<circle cx="353" cy="90.3" r="1.75" fill="#fff" stroke="#555" stroke-width="0.5"/>
<text x="365.7" y="92.6" font-size="6.9" text-anchor="start" fill="#333" font-weight="normal" stroke="#333" stroke-width="0.16" >Experiment</text>
<line x1="286.96" y1="158.3" x2="286.96" y2="242.2" stroke="#ececec" stroke-width="0.8"/><line x1="307.92" y1="158.3" x2="307.92" y2="242.2" stroke="#ececec" stroke-width="0.8"/><line x1="328.88" y1="158.3" x2="328.88" y2="242.2" stroke="#ececec" stroke-width="0.8"/><line x1="349.84" y1="158.3" x2="349.84" y2="242.2" stroke="#ececec" stroke-width="0.8"/><line x1="370.8" y1="158.3" x2="370.8" y2="242.2" stroke="#ececec" stroke-width="0.8"/><line x1="391.76" y1="158.3" x2="391.76" y2="242.2" stroke="#ececec" stroke-width="0.8"/><line x1="266.0" y1="200.25" x2="413.3" y2="200.25" stroke="#ececec" stroke-width="0.8"/>
<rect x="268" y="166.5" width="94" height="22" fill="#fff"/>
<line x1="266.0" y1="158.3" x2="413.3" y2="158.3" stroke="#707070" stroke-width="0.9"/>
<line x1="413.3" y1="158.3" x2="413.3" y2="242.2" stroke="#c4c4c4" stroke-width="1.1"/>
<line x1="266.0" y1="158.3" x2="266.0" y2="242.2" stroke="#c8c8c8" stroke-width="1.3"/>
<line x1="266.0" y1="242.2" x2="413.3" y2="242.2" stroke="#707070" stroke-width="0.9"/>
<line x1="266" y1="242.2" x2="266" y2="243.6" stroke="#888" stroke-width="0.7"/><line x1="286.96" y1="242.2" x2="286.96" y2="243.6" stroke="#888" stroke-width="0.7"/><line x1="307.92" y1="242.2" x2="307.92" y2="243.6" stroke="#888" stroke-width="0.7"/><line x1="328.88" y1="242.2" x2="328.88" y2="243.6" stroke="#888" stroke-width="0.7"/><line x1="349.84" y1="242.2" x2="349.84" y2="243.6" stroke="#888" stroke-width="0.7"/><line x1="370.8" y1="242.2" x2="370.8" y2="243.6" stroke="#888" stroke-width="0.7"/><line x1="391.76" y1="242.2" x2="391.76" y2="243.6" stroke="#888" stroke-width="0.7"/><line x1="412.72" y1="242.2" x2="412.72" y2="243.6" stroke="#888" stroke-width="0.7"/><line x1="264.2" y1="242.2" x2="266.0" y2="242.2" stroke="#888" stroke-width="0.7"/><line x1="264.2" y1="200.25" x2="266.0" y2="200.25" stroke="#888" stroke-width="0.7"/><line x1="264.2" y1="158.3" x2="266.0" y2="158.3" stroke="#888" stroke-width="0.7"/>
<text x="263.5" y="245.55" font-size="9.5" text-anchor="end" fill="#222" font-weight="normal" >0</text>
<text x="263.5" y="203.6" font-size="9.5" text-anchor="end" fill="#222" font-weight="normal" >1</text>
<text x="263.5" y="161.65" font-size="9.5" text-anchor="end" fill="#222" font-weight="normal" >2</text>
<text x="266" y="252" font-size="9.5" text-anchor="middle" fill="#222" font-weight="normal" letter-spacing="0.3">0</text>
<text x="307.92" y="252" font-size="9.5" text-anchor="middle" fill="#222" font-weight="normal" letter-spacing="0.3">200</text>
<text x="349.84" y="252" font-size="9.5" text-anchor="middle" fill="#222" font-weight="normal" letter-spacing="0.3">400</text>
<text x="391.76" y="252" font-size="9.5" text-anchor="middle" fill="#222" font-weight="normal" letter-spacing="0.3">600</text>
<text x="341.2" y="261.4" font-size="9.2" text-anchor="middle" fill="#222" font-weight="normal" stroke="#222" stroke-width="0.16" >Thickness (nm)</text>
<text x="0" y="0" font-size="8.6" text-anchor="middle" fill="#222" font-weight="normal" stroke="#222" stroke-width="0.16" transform="translate(255.4,200.8) rotate(-90)">λ<tspan font-size="5.6" dy="1.8">p</tspan><tspan dy="-1.8"> (μm)</tspan></text>
<line x1="266.2" y1="242" x2="378" y2="189.86" stroke="#f00" stroke-width="1.5"/>
<line x1="384.8" y1="186.68" x2="413.3" y2="173.4" stroke="#f00" stroke-width="1.5"/>
<text x="378.4" y="190" font-size="7.0" text-anchor="start" fill="#444" font-weight="normal" stroke="#444" stroke-width="0.3" >M<tspan font-size="3.9" dy="1.9">0</tspan></text>
<circle cx="343.6" cy="205.9" r="2.6" fill="#fff" stroke="#333" stroke-width="0.85"/>
<line x1="272.8" y1="172.3" x2="303.6" y2="172.3" stroke="#f00" stroke-width="1.2"/>
<text x="310.4" y="174.6" font-size="6.7" text-anchor="start" fill="#333" font-weight="normal" stroke="#333" stroke-width="0.16" >Theory (PbI<tspan font-size="4" dy="1.3">2</tspan><tspan dy="-1.3">/Au)</tspan></text>
<circle cx="287.8" cy="183.7" r="2.6" fill="#fff" stroke="#333" stroke-width="0.85"/>
<text x="310.4" y="186" font-size="6.8" text-anchor="start" fill="#333" font-weight="normal" stroke="#333" stroke-width="0.16" >Experiment</text>
<rect x="502.7" y="37.7" width="92.4" height="81.9" fill="#f1f1f1"/>
<line x1="500.83" y1="14.3" x2="500.83" y2="242.7" stroke="#b8b8b8" stroke-width="0.9" stroke-dasharray="2.3,2.2"/>
<line x1="596.9" y1="14.3" x2="596.9" y2="242.7" stroke="#b8b8b8" stroke-width="0.9" stroke-dasharray="2.3,2.2"/>
<line x1="445.2" y1="13.3" x2="678.4" y2="13.3" stroke="#606060" stroke-width="1"/>
<line x1="678.4" y1="13.3" x2="678.4" y2="242.7" stroke="#666" stroke-width="0.9"/>
<line x1="445.2" y1="13.3" x2="445.2" y2="242.7" stroke="#5a5a5a" stroke-width="1"/>
<line x1="445.2" y1="242.7" x2="678.4" y2="242.7" stroke="#b4b4b4" stroke-width="1.3"/>
<line x1="443.9" y1="241.58" x2="445.2" y2="241.58" stroke="#5a5a5a" stroke-width="0.7"/><line x1="443.9" y1="232.8" x2="445.2" y2="232.8" stroke="#5a5a5a" stroke-width="0.7"/><line x1="443" y1="224.02" x2="445.2" y2="224.02" stroke="#5a5a5a" stroke-width="0.7"/><line x1="443.9" y1="215.24" x2="445.2" y2="215.24" stroke="#5a5a5a" stroke-width="0.7"/><line x1="443.9" y1="206.46" x2="445.2" y2="206.46" stroke="#5a5a5a" stroke-width="0.7"/><line x1="443.9" y1="197.68" x2="445.2" y2="197.68" stroke="#5a5a5a" stroke-width="0.7"/><line x1="443" y1="188.9" x2="445.2" y2="188.9" stroke="#5a5a5a" stroke-width="0.7"/><line x1="443.9" y1="180.12" x2="445.2" y2="180.12" stroke="#5a5a5a" stroke-width="0.7"/><line x1="443.9" y1="171.34" x2="445.2" y2="171.34" stroke="#5a5a5a" stroke-width="0.7"/><line x1="443.9" y1="162.56" x2="445.2" y2="162.56" stroke="#5a5a5a" stroke-width="0.7"/><line x1="443" y1="153.78" x2="445.2" y2="153.78" stroke="#5a5a5a" stroke-width="0.7"/><line x1="443.9" y1="145" x2="445.2" y2="145" stroke="#5a5a5a" stroke-width="0.7"/><line x1="443.9" y1="136.22" x2="445.2" y2="136.22" stroke="#5a5a5a" stroke-width="0.7"/><line x1="443.9" y1="127.44" x2="445.2" y2="127.44" stroke="#5a5a5a" stroke-width="0.7"/><line x1="443" y1="118.66" x2="445.2" y2="118.66" stroke="#5a5a5a" stroke-width="0.7"/><line x1="443.9" y1="109.88" x2="445.2" y2="109.88" stroke="#5a5a5a" stroke-width="0.7"/><line x1="443.9" y1="101.1" x2="445.2" y2="101.1" stroke="#5a5a5a" stroke-width="0.7"/><line x1="443.9" y1="92.32" x2="445.2" y2="92.32" stroke="#5a5a5a" stroke-width="0.7"/><line x1="443" y1="83.54" x2="445.2" y2="83.54" stroke="#5a5a5a" stroke-width="0.7"/><line x1="443.9" y1="74.76" x2="445.2" y2="74.76" stroke="#5a5a5a" stroke-width="0.7"/><line x1="443.9" y1="65.98" x2="445.2" y2="65.98" stroke="#5a5a5a" stroke-width="0.7"/><line x1="443.9" y1="57.2" x2="445.2" y2="57.2" stroke="#5a5a5a" stroke-width="0.7"/><line x1="443" y1="48.42" x2="445.2" y2="48.42" stroke="#5a5a5a" stroke-width="0.7"/><line x1="443.9" y1="39.64" x2="445.2" y2="39.64" stroke="#5a5a5a" stroke-width="0.7"/><line x1="443.9" y1="30.86" x2="445.2" y2="30.86" stroke="#5a5a5a" stroke-width="0.7"/><line x1="443.9" y1="22.08" x2="445.2" y2="22.08" stroke="#5a5a5a" stroke-width="0.7"/><line x1="443" y1="13.3" x2="445.2" y2="13.3" stroke="#5a5a5a" stroke-width="0.7"/><line x1="445.2" y1="243.29999999999998" x2="445.2" y2="244.1" stroke="#555" stroke-width="0.6"/><line x1="465.73" y1="243.29999999999998" x2="465.73" y2="244.1" stroke="#555" stroke-width="0.6"/><line x1="480.3" y1="243.29999999999998" x2="480.3" y2="244.1" stroke="#555" stroke-width="0.6"/><line x1="491.6" y1="243.29999999999998" x2="491.6" y2="244.1" stroke="#555" stroke-width="0.6"/><line x1="500.83" y1="243.29999999999998" x2="500.83" y2="244.1" stroke="#555" stroke-width="0.6"/><line x1="508.64" y1="243.29999999999998" x2="508.64" y2="244.1" stroke="#555" stroke-width="0.6"/><line x1="515.4" y1="243.29999999999998" x2="515.4" y2="244.1" stroke="#555" stroke-width="0.6"/><line x1="521.36" y1="243.29999999999998" x2="521.36" y2="244.1" stroke="#555" stroke-width="0.6"/><line x1="526.7" y1="243.29999999999998" x2="526.7" y2="244.1" stroke="#555" stroke-width="0.6"/><line x1="531.53" y1="243.29999999999998" x2="531.53" y2="244.1" stroke="#555" stroke-width="0.6"/><line x1="535.93" y1="243.29999999999998" x2="535.93" y2="244.1" stroke="#555" stroke-width="0.6"/><line x1="539.99" y1="243.29999999999998" x2="539.99" y2="244.1" stroke="#555" stroke-width="0.6"/><line x1="543.74" y1="243.29999999999998" x2="543.74" y2="244.1" stroke="#555" stroke-width="0.6"/><line x1="547.23" y1="243.29999999999998" x2="547.23" y2="244.1" stroke="#555" stroke-width="0.6"/><line x1="550.5" y1="243.29999999999998" x2="550.5" y2="244.1" stroke="#555" stroke-width="0.6"/><line x1="553.57" y1="243.29999999999998" x2="553.57" y2="244.1" stroke="#555" stroke-width="0.6"/><line x1="556.46" y1="243.29999999999998" x2="556.46" y2="244.1" stroke="#555" stroke-width="0.6"/><line x1="559.2" y1="243.29999999999998" x2="559.2" y2="244.1" stroke="#555" stroke-width="0.6"/><line x1="561.8" y1="243.29999999999998" x2="561.8" y2="244.1" stroke="#555" stroke-width="0.6"/><line x1="582.33" y1="243.29999999999998" x2="582.33" y2="244.1" stroke="#555" stroke-width="0.6"/><line x1="596.9" y1="243.29999999999998" x2="596.9" y2="244.1" stroke="#555" stroke-width="0.6"/><line x1="608.2" y1="243.29999999999998" x2="608.2" y2="244.1" stroke="#555" stroke-width="0.6"/><line x1="617.43" y1="243.29999999999998" x2="617.43" y2="244.1" stroke="#555" stroke-width="0.6"/><line x1="625.24" y1="243.29999999999998" x2="625.24" y2="244.1" stroke="#555" stroke-width="0.6"/><line x1="632" y1="243.29999999999998" x2="632" y2="244.1" stroke="#555" stroke-width="0.6"/><line x1="637.96" y1="243.29999999999998" x2="637.96" y2="244.1" stroke="#555" stroke-width="0.6"/><line x1="643.3" y1="243.29999999999998" x2="643.3" y2="244.1" stroke="#555" stroke-width="0.6"/><line x1="648.13" y1="243.29999999999998" x2="648.13" y2="244.1" stroke="#555" stroke-width="0.6"/><line x1="652.53" y1="243.29999999999998" x2="652.53" y2="244.1" stroke="#555" stroke-width="0.6"/><line x1="656.59" y1="243.29999999999998" x2="656.59" y2="244.1" stroke="#555" stroke-width="0.6"/><line x1="660.34" y1="243.29999999999998" x2="660.34" y2="244.1" stroke="#555" stroke-width="0.6"/><line x1="663.83" y1="243.29999999999998" x2="663.83" y2="244.1" stroke="#555" stroke-width="0.6"/><line x1="667.1" y1="243.29999999999998" x2="667.1" y2="244.1" stroke="#555" stroke-width="0.6"/><line x1="670.17" y1="243.29999999999998" x2="670.17" y2="244.1" stroke="#555" stroke-width="0.6"/><line x1="673.06" y1="243.29999999999998" x2="673.06" y2="244.1" stroke="#555" stroke-width="0.6"/><line x1="675.8" y1="243.29999999999998" x2="675.8" y2="244.1" stroke="#555" stroke-width="0.6"/><line x1="445.2" y1="242.7" x2="445.2" y2="244.7" stroke="#555" stroke-width="0.8"/><line x1="561.8" y1="242.7" x2="561.8" y2="244.7" stroke="#555" stroke-width="0.8"/><line x1="678.4" y1="242.7" x2="678.4" y2="244.7" stroke="#555" stroke-width="0.8"/>
<text x="442.6" y="227.42" font-size="9.5" text-anchor="end" fill="#222" font-weight="normal" >6</text>
<text x="442.6" y="192.3" font-size="9.5" text-anchor="end" fill="#222" font-weight="normal" >8</text>
<text x="442.6" y="157.18" font-size="9.5" text-anchor="end" fill="#222" font-weight="normal" >10</text>
<text x="442.6" y="122.06" font-size="9.5" text-anchor="end" fill="#222" font-weight="normal" >12</text>
<text x="442.6" y="86.94" font-size="9.5" text-anchor="end" fill="#222" font-weight="normal" >14</text>
<text x="442.6" y="51.82" font-size="9.5" text-anchor="end" fill="#222" font-weight="normal" >16</text>
<text x="442.6" y="16.7" font-size="9.5" text-anchor="end" fill="#222" font-weight="normal" >18</text>
<text x="445.2" y="252.2" font-size="9.5" text-anchor="middle" fill="#222" font-weight="normal" >1</text>
<text x="561.8" y="252.2" font-size="9.5" text-anchor="middle" fill="#222" font-weight="normal" >10</text>
<text x="678.4" y="252.2" font-size="9.5" text-anchor="middle" fill="#222" font-weight="normal" >100</text>
<text x="559.5" y="261.4" font-size="9.2" text-anchor="middle" fill="#222" font-weight="normal" stroke="#222" stroke-width="0.16" >Frequency (THz)</text>
<text x="0" y="0" font-size="9.8" text-anchor="middle" fill="#222" font-weight="normal" stroke="#222" stroke-width="0.16" transform="translate(427.2,125.6) rotate(-90)">peak Q-factor</text>
<text x="473.5" y="11.5" font-size="6.5" text-anchor="middle" fill="#333" font-weight="normal" stroke="#333" stroke-width="0.16" >THz</text>
<text x="547.8" y="11.5" font-size="6.5" text-anchor="middle" fill="#333" font-weight="normal" stroke="#333" stroke-width="0.16" >far-IR</text>
<text x="637.9" y="11.5" font-size="6.5" text-anchor="middle" fill="#333" font-weight="normal" stroke="#333" stroke-width="0.16" >mid-IR</text>
<circle cx="465.7" cy="31.1" r="12.6" fill="#ffab00"/><circle cx="633.2" cy="66.4" r="4.2" fill="#1e88e5"/><circle cx="607.6" cy="110.3" r="4.2" fill="#f00000"/><circle cx="536.9" cy="154.2" r="7.3" fill="#7a00d9"/><circle cx="525.8" cy="190" r="11" fill="#ff7800"/><circle cx="549.8" cy="200.3" r="5.85" fill="#ee0000"/><circle cx="507.1" cy="225" r="9.8" fill="#00a050"/>
<text x="472.7" y="19.9" font-size="7.2" text-anchor="start" fill="#f0a000" font-weight="bold" stroke="#f0a000" stroke-width="0.25" >PbI<tspan font-size="4.3" dy="1.7">2</tspan></text>
<text x="480" y="32.8" font-size="6.6" text-anchor="start" fill="#222" font-weight="normal" stroke="#222" stroke-width="0.16" >This work</text>
<text x="466" y="50.4" font-size="7.0" text-anchor="middle" fill="#333" font-weight="normal" stroke="#333" stroke-width="0.16" >4.20</text>
<text x="633.2" y="60.8" font-size="6.6" text-anchor="middle" fill="#1e88e5" font-weight="normal" stroke="#1e88e5" stroke-width="0.16" >hBN</text>
<text x="633" y="76.9" font-size="7.0" text-anchor="middle" fill="#333" font-weight="normal" stroke="#333" stroke-width="0.16" >1.41</text>
<text x="606.8" y="83.4" font-size="6.6" text-anchor="start" fill="#222" font-weight="normal" stroke="#222" stroke-width="0.16" >A.J. Giles <tspan font-style="italic">et al.</tspan> [52]</text>
<text x="597" y="105" font-size="6.6" text-anchor="start" fill="#f00000" font-weight="normal" stroke="#f00000" stroke-width="0.16" >α-MoO<tspan font-size="4.3" dy="1.7">3</tspan></text>
<text x="616" y="113.8" font-size="6.6" text-anchor="start" fill="#222" font-weight="normal" stroke="#222" stroke-width="0.16" >W. Ma <tspan font-style="italic">et al.</tspan> [6]</text>
<text x="607.6" y="120.8" font-size="7.0" text-anchor="middle" fill="#333" font-weight="normal" stroke="#333" stroke-width="0.16" >1.37</text>
<text x="537" y="146.2" font-size="6.6" text-anchor="middle" fill="#7a00d9" font-weight="normal" stroke="#7a00d9" stroke-width="0.16" >GeS</text>
<text x="547.3" y="156.6" font-size="6.6" text-anchor="start" fill="#222" font-weight="normal" stroke="#222" stroke-width="0.16" >T. Nörenberg <tspan font-style="italic">et al.</tspan> [12]</text>
<text x="537" y="168" font-size="7.0" text-anchor="middle" fill="#333" font-weight="normal" stroke="#333" stroke-width="0.16" >2.43</text>
<text x="520.5" y="177.4" font-size="6.6" text-anchor="start" fill="#ff7800" font-weight="normal" stroke="#ff7800" stroke-width="0.16" >HfS<tspan font-size="4.3" dy="1.7">2</tspan></text>
<text x="448" y="182.4" font-size="6.6" text-anchor="start" fill="#222" font-weight="normal" stroke="#222" stroke-width="0.16" >R.A. Kowalski <tspan font-style="italic">et al.</tspan> [13]</text>
<text x="525.8" y="206.9" font-size="7.0" text-anchor="middle" fill="#333" font-weight="normal" stroke="#333" stroke-width="0.16" >3.65</text>
<text x="539" y="194.4" font-size="6.6" text-anchor="start" fill="#f00000" font-weight="normal" stroke="#f00000" stroke-width="0.16" >α-MoO<tspan font-size="4.3" dy="1.7">3</tspan></text>
<text x="559" y="202.8" font-size="6.6" text-anchor="start" fill="#222" font-weight="normal" stroke="#222" stroke-width="0.16" >T.V.A.G. Oliveira <tspan font-style="italic">et al.</tspan> [7]</text>
<text x="549.8" y="211.9" font-size="7.0" text-anchor="middle" fill="#333" font-weight="normal" stroke="#333" stroke-width="0.16" >1.95</text>
<text x="501.3" y="214.7" font-size="6.6" text-anchor="start" fill="#00a050" font-weight="normal" stroke="#00a050" stroke-width="0.16" >HfSe<tspan font-size="4.3" dy="1.7">2</tspan></text>
<text x="518.7" y="227.7" font-size="6.6" text-anchor="start" fill="#222" font-weight="normal" stroke="#222" stroke-width="0.16" >R.A. Kowalski <tspan font-style="italic">et al.</tspan> [13]</text>
<text x="507.4" y="239.9" font-size="7.0" text-anchor="middle" fill="#333" font-weight="normal" stroke="#333" stroke-width="0.16" >3.29</text>
<circle cx="519.2" cy="65.3" r="8.5" fill="none" stroke="#333" stroke-width="0.7"/>
<text x="520" y="78.3" font-size="5.0" text-anchor="middle" fill="#222" font-weight="bold" stroke="#222" stroke-width="0.25" >x.x</text>
<line x1="538.2" y1="51" x2="528.38" y2="57.38" stroke="#333" stroke-width="0.6"/><polygon points="526.2,58.8 527.73,56.38 529.03,58.39" fill="#333"/>
<line x1="539.5" y1="76.2" x2="528.1" y2="76.2" stroke="#333" stroke-width="0.6"/><polygon points="525.5,76.2 528.1,75 528.1,77.4" fill="#333"/>
<line x1="505" y1="80.2" x2="511.78" y2="73.26" stroke="#333" stroke-width="0.6"/><polygon points="513.6,71.4 512.64,74.1 510.92,72.42" fill="#333"/>
<text x="541" y="78.9" font-size="7.4" text-anchor="start" fill="#333" font-weight="normal" stroke="#333" stroke-width="0.16" >ε<tspan font-size="4.4" dy="1.5">0</tspan><tspan dy="-1.5">/ε</tspan><tspan font-size="4.4" dy="1.5">∞</tspan></text>
<text x="539" y="46.4" font-size="6.5" text-anchor="start" fill="#333" font-weight="normal" stroke="#333" stroke-width="0.16" >proportional to the</text>
<text x="539" y="53.6" font-size="6.5" text-anchor="start" fill="#333" font-weight="normal" stroke="#333" stroke-width="0.16" >LST ratio (ε<tspan font-size="3.6" dy="1.0">0</tspan><tspan dy="-1">/ε</tspan><tspan font-size="3.6" dy="1.0">∞</tspan><tspan dy="-1">) of</tspan></text>
<text x="539" y="60.8" font-size="6.5" text-anchor="start" fill="#333" font-weight="normal" stroke="#333" stroke-width="0.16" >the band</text>
<text x="514.6" y="92" font-size="8.2" text-anchor="start" fill="#333" font-weight="normal" stroke="#333" stroke-width="0.16" >ν<tspan font-size="5.2" dy="1.8">TO</tspan></text>
<circle cx="519.1" cy="106.1" r="8.4" fill="none" stroke="#333" stroke-width="0.7"/>
<line x1="519.1" y1="96.6" x2="519.1" y2="117" stroke="#333" stroke-width="0.6" stroke-dasharray="1.6,1.3"/>
<text x="539.5" y="100.3" font-size="6.5" text-anchor="start" fill="#333" font-weight="normal" stroke="#333" stroke-width="0.16" >centered at the</text>
<text x="539.5" y="107.65" font-size="6.5" text-anchor="start" fill="#333" font-weight="normal" stroke="#333" stroke-width="0.16" >lower frequency</text>
<text x="539.5" y="115" font-size="6.5" text-anchor="start" fill="#333" font-weight="normal" stroke="#333" stroke-width="0.16" >of the RB (ν<tspan font-size="3.6" dy="1.0">TO</tspan><tspan dy="-1">)</tspan></text>
</svg></body></html>
